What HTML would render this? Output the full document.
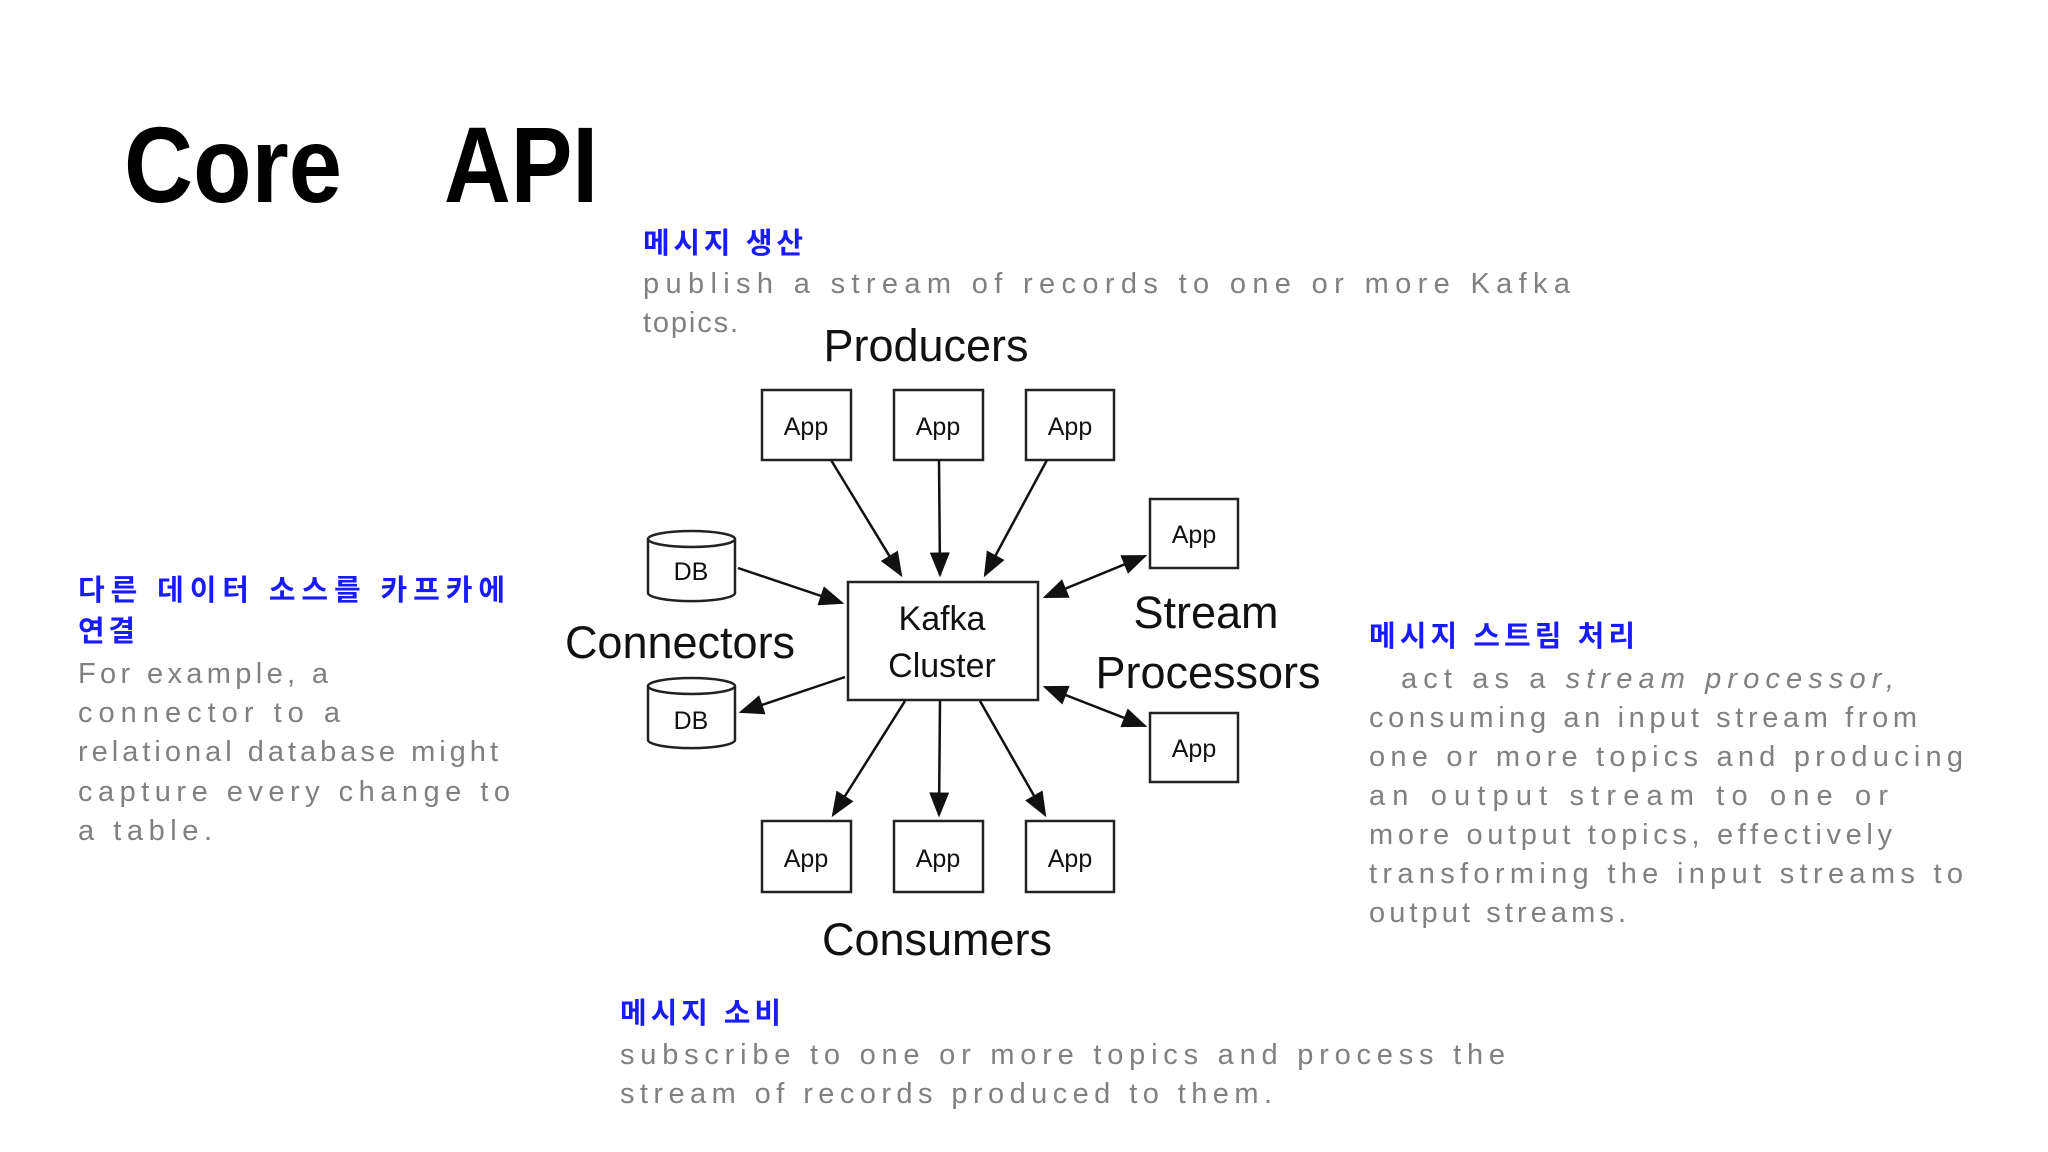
<!DOCTYPE html>
<html><head><meta charset="utf-8"><style>
html,body{margin:0;padding:0;background:#fff;}
svg{display:block}
.g{font-family:"Liberation Sans","Noto Sans CJK KR",sans-serif;font-size:29px;fill:#808080;}
.b{font-family:"Liberation Sans","Noto Sans CJK KR",sans-serif;font-size:29px;font-weight:bold;fill:#1a1aff;}
.d{font-family:"Liberation Sans",sans-serif;fill:#111;}
</style></head><body>
<svg width="2048" height="1152" viewBox="0 0 2048 1152" xmlns="http://www.w3.org/2000/svg">
<defs>
<marker id="ah" viewBox="0 0 10 8" refX="9" refY="4" markerWidth="26" markerHeight="20" orient="auto-start-reverse" markerUnits="userSpaceOnUse"><path d="M0,0 L10,4 L0,8 z" fill="#111"/></marker></defs>
<text x="124" y="202" font-family="Liberation Sans,sans-serif" font-weight="bold" font-size="108" fill="#000" textLength="218" lengthAdjust="spacingAndGlyphs">Core</text>
<text x="444" y="202" font-family="Liberation Sans,sans-serif" font-weight="bold" font-size="108" fill="#000" textLength="154" lengthAdjust="spacingAndGlyphs">API</text>

<text class="b" x="643" y="253" textLength="160" lengthAdjust="spacing">메시지 생산</text>
<text class="g" x="643" y="293" textLength="927" lengthAdjust="spacing">publish a stream of records to one or more Kafka</text>
<text class="g" x="643" y="332" textLength="95" lengthAdjust="spacing">topics.</text>

<text class="b" x="78" y="600" textLength="427" lengthAdjust="spacing">다른 데이터 소스를 카프카에</text>
<text class="b" x="78" y="641" textLength="57" lengthAdjust="spacing">연결</text>
<text class="g" x="78" y="683" textLength="250" lengthAdjust="spacing">For example, a</text>
<text class="g" x="78" y="722" textLength="262" lengthAdjust="spacing">connector to a</text>
<text class="g" x="78" y="761" textLength="420" lengthAdjust="spacing">relational database might</text>
<text class="g" x="78" y="801" textLength="432" lengthAdjust="spacing">capture every change to</text>
<text class="g" x="78" y="840" textLength="134" lengthAdjust="spacing">a table.</text>

<text class="b" x="1369" y="646" textLength="266" lengthAdjust="spacing">메시지 스트림 처리</text>
<text class="g" x="1401" y="688" textLength="493" lengthAdjust="spacing">act as a <tspan font-style="italic">stream processor,</tspan></text>
<text class="g" x="1369" y="727" textLength="548" lengthAdjust="spacing">consuming an input stream from</text>
<text class="g" x="1369" y="766" textLength="594" lengthAdjust="spacing">one or more topics and producing</text>
<text class="g" x="1369" y="805" textLength="519" lengthAdjust="spacing">an output stream to one or</text>
<text class="g" x="1369" y="844" textLength="523" lengthAdjust="spacing">more output topics, effectively</text>
<text class="g" x="1369" y="883" textLength="594" lengthAdjust="spacing">transforming the input streams to</text>
<text class="g" x="1369" y="922" textLength="257" lengthAdjust="spacing">output streams.</text>

<text class="b" x="620" y="1023" textLength="161" lengthAdjust="spacing">메시지 소비</text>
<text class="g" x="620" y="1064" textLength="885" lengthAdjust="spacing">subscribe to one or more topics and process the</text>
<text class="g" x="620" y="1103" textLength="652" lengthAdjust="spacing">stream of records produced to them.</text>

<g fill="#fff" stroke="#222" stroke-width="2.5">
<rect x="762" y="390" width="89" height="70"/><rect x="894" y="390" width="89" height="70"/><rect x="1026" y="390" width="88" height="70"/>
<rect x="1150" y="499" width="88" height="69"/><rect x="1150" y="713" width="88" height="69"/>
<rect x="762" y="821" width="89" height="71"/><rect x="894" y="821" width="89" height="71"/><rect x="1026" y="821" width="88" height="71"/>
<rect x="848" y="582" width="190" height="118"/>
<path d="M648,539 V593 A43,8 0 0 0 735,593 V539"/><ellipse cx="691.5" cy="539" rx="43.5" ry="8"/>
<path d="M648,686 V740 A43,8 0 0 0 735,740 V686"/><ellipse cx="691.5" cy="686" rx="43.5" ry="8"/>
</g>
<g class="d" font-size="25" text-anchor="middle">
<text x="806" y="435">App</text><text x="938" y="435">App</text><text x="1070" y="435">App</text>
<text x="1194" y="543">App</text><text x="1194" y="757">App</text>
<text x="806" y="867">App</text><text x="938" y="867">App</text><text x="1070" y="867">App</text>
<text x="691" y="580">DB</text><text x="691" y="729">DB</text>
<text x="942" y="630" font-size="34">Kafka</text><text x="942" y="677" font-size="34">Cluster</text>
<text x="926" y="361" font-size="45">Producers</text>
<text x="680" y="658" font-size="45">Connectors</text>
<text x="1206" y="628" font-size="45">Stream</text>
<text x="1208" y="688" font-size="45">Processors</text>
<text x="937" y="955" font-size="45">Consumers</text>
</g>
<g stroke="#111" stroke-width="2.5" fill="none">
<line x1="831" y1="460" x2="901" y2="575" marker-end="url(#ah)"/>
<line x1="939" y1="460" x2="940" y2="575" marker-end="url(#ah)"/>
<line x1="1047" y1="460" x2="985" y2="575" marker-end="url(#ah)"/>
<line x1="738" y1="568" x2="842" y2="603" marker-end="url(#ah)"/>
<line x1="845" y1="677" x2="741" y2="712" marker-end="url(#ah)"/>
<line x1="905" y1="701" x2="833" y2="815" marker-end="url(#ah)"/>
<line x1="940" y1="701" x2="939" y2="815" marker-end="url(#ah)"/>
<line x1="980" y1="701" x2="1045" y2="815" marker-end="url(#ah)"/>
<line x1="1045" y1="597" x2="1145" y2="556" marker-start="url(#ah)" marker-end="url(#ah)"/>
<line x1="1045" y1="687" x2="1145" y2="726" marker-start="url(#ah)" marker-end="url(#ah)"/>
</g>
</svg>
</body></html>
